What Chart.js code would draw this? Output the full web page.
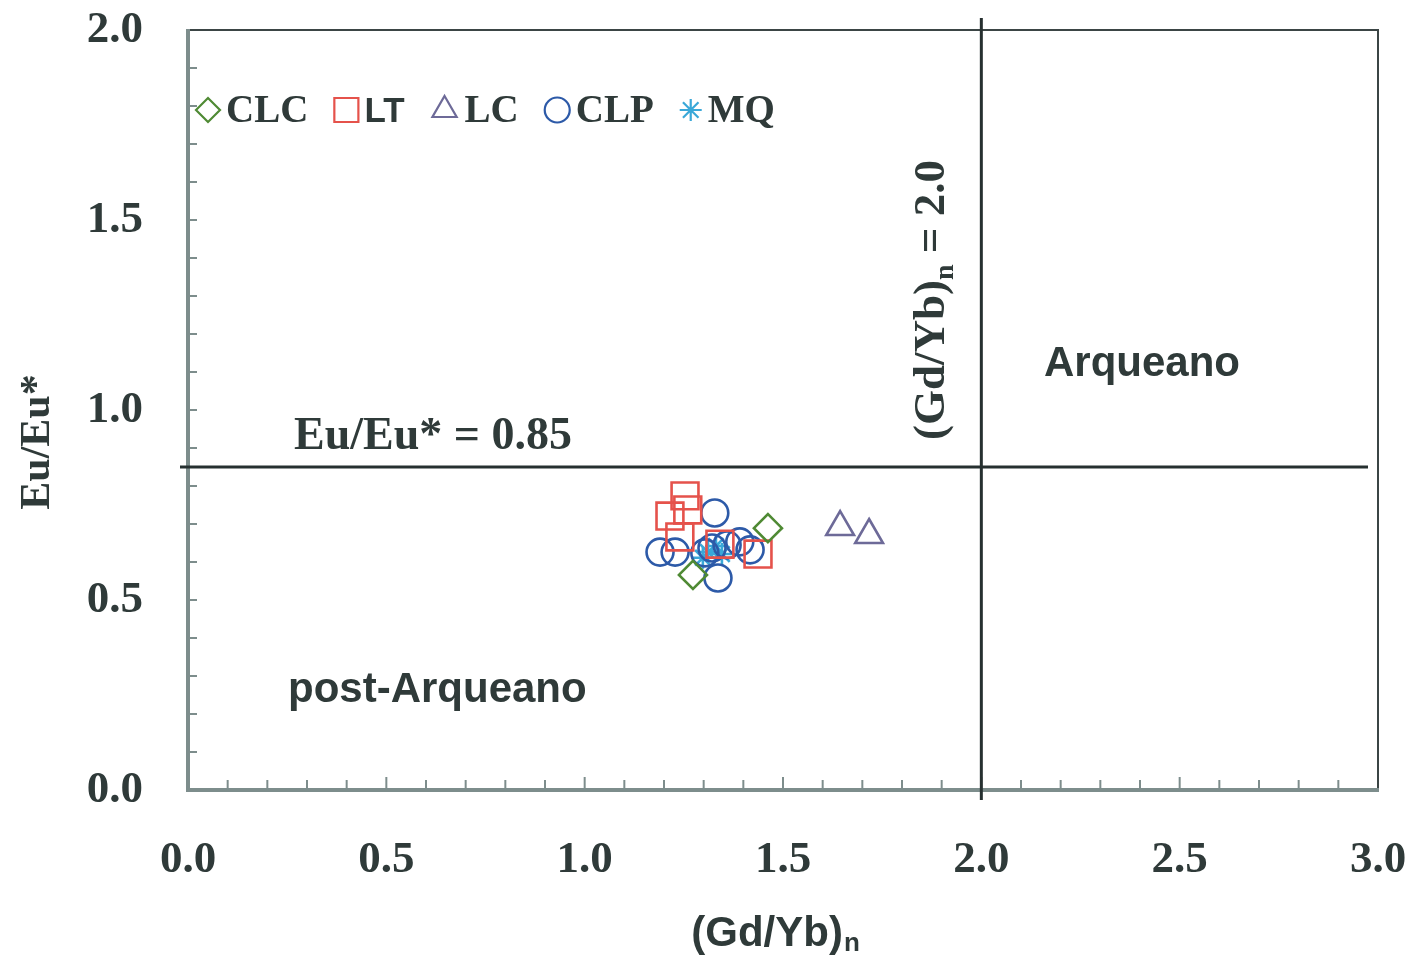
<!DOCTYPE html>
<html>
<head>
<meta charset="utf-8">
<title>Eu/Eu* vs (Gd/Yb)n</title>
<script src="https://cdn.jsdelivr.net/npm/chart.js@4/dist/chart.umd.min.js"></script>
<style>
  html, body { margin: 0; padding: 0; background: #ffffff; }
  #wrap { width: 1416px; height: 960px; }
</style>
</head>
<body>
<div id="wrap"><canvas id="c" width="1416" height="960"></canvas></div>
<script>
// Sample groups
const seriesNames = ['CLC', 'LT', 'LC', 'CLP', 'MQ'];

// (Gd/Yb)n values per group
const clcX = [1.462, 1.273];
const ltX  = [1.253, 1.215, 1.260, 1.240, 1.341, 1.437];
const lcX  = [1.644, 1.717];
const clpX = [1.328, 1.190, 1.228, 1.336, 1.391, 1.417, 1.321, 1.359, 1.303];
const mqX  = [1.311, 1.331, 1.298, 1.346];

// Eu/Eu* values per group
const clcY = [0.689, 0.566];
const ltY  = [0.774, 0.721, 0.737, 0.666, 0.647, 0.621];
const lcY  = [0.692, 0.671];
const clpY = [0.729, 0.626, 0.626, 0.558, 0.653, 0.632, 0.637, 0.645, 0.624];
const mqY  = [0.626, 0.642, 0.611, 0.621];

// Boundary values
const euLimit = 0.85;
const gdybLimit = 2.0;

// Axis tick labels
const xTickLabels = ['0.0', '0.5', '1.0', '1.5', '2.0', '2.5', '3.0'];
const yTickLabels = ['0.0', '0.5', '1.0', '1.5', '2.0'];

const INK = '#2f3a39';
const SERIF = '"Liberation Serif", "DejaVu Serif", serif';
const SANS = '"Liberation Sans", Arial, sans-serif';

function pts(xs, ys) { return xs.map((x, i) => ({ x: x, y: ys[i] })); }

const styles = {
  CLC: { color: '#4f8a34', pointStyle: 'rectRot', radius: 14, legendRadius: 12, font: SERIF, size: 39 },
  LT:  { color: '#e5524b', pointStyle: 'rect',    radius: 19, legendRadius: 17, font: SANS,  size: 35 },
  LC:  { color: '#6d6a98', pointStyle: 'triangle', radius: 16, legendRadius: 14, font: SERIF, size: 39 },
  CLP: { color: '#2d5aa8', pointStyle: 'circle',  radius: 13.5, legendRadius: 12.5, font: SERIF, size: 39 },
  MQ:  { color: '#3aa8d8', pointStyle: 'star',    radius: 11, legendRadius: 11, font: SERIF, size: 39 }
};

const dataByName = {
  CLC: pts(clcX, clcY),
  LT: pts(ltX, ltY),
  LC: pts(lcX, lcY),
  CLP: pts(clpX, clpY),
  MQ: pts(mqX, mqY)
};

const datasets = seriesNames.map(n => ({
  label: n,
  data: dataByName[n],
  pointStyle: styles[n].pointStyle,
  pointRadius: styles[n].radius,
  pointHoverRadius: styles[n].radius,
  pointBorderColor: styles[n].color,
  pointBackgroundColor: 'rgba(0,0,0,0)',
  pointBorderWidth: 2.6,
  showLine: false
}));

// Frame, inner ticks, reference lines and text annotations
const decorations = {
  id: 'decorations',
  beforeDatasetsDraw(chart) {
    const { ctx, chartArea: a, scales: { x, y } } = chart;
    ctx.save();
    // frame
    ctx.strokeStyle = '#3b4545';
    ctx.lineWidth = 2;
    ctx.beginPath();
    ctx.moveTo(a.left, a.top); ctx.lineTo(a.right, a.top); ctx.lineTo(a.right, a.bottom);
    ctx.stroke();
    ctx.strokeStyle = '#7d8d8c';
    ctx.lineWidth = 4;
    ctx.beginPath();
    ctx.moveTo(a.left, a.top - 1); ctx.lineTo(a.left, a.bottom); ctx.lineTo(a.right + 1, a.bottom);
    ctx.stroke();

    // minor ticks, pointing into the plot
    ctx.strokeStyle = '#7d8d8c';
    ctx.lineWidth = 2;
    for (let i = 1; i < 30; i++) {
      const px = x.getPixelForValue(i / 10);
      const len = (i % 5 === 0) ? 13 : 10;
      ctx.beginPath(); ctx.moveTo(px, a.bottom); ctx.lineTo(px, a.bottom - len); ctx.stroke();
    }
    for (let i = 1; i < 20; i++) {
      const py = y.getPixelForValue(i / 10);
      ctx.beginPath(); ctx.moveTo(a.left, py); ctx.lineTo(a.left + 9, py); ctx.stroke();
    }

    // boundary lines
    ctx.strokeStyle = '#263030';
    ctx.lineWidth = 3;
    const yl = y.getPixelForValue(euLimit);
    ctx.beginPath(); ctx.moveTo(a.left - 8, yl); ctx.lineTo(a.right - 10, yl); ctx.stroke();
    const xl = x.getPixelForValue(gdybLimit);
    ctx.beginPath(); ctx.moveTo(xl, a.top - 12); ctx.lineTo(xl, a.bottom + 10); ctx.stroke();

    // annotations
    ctx.fillStyle = INK;
    ctx.textBaseline = 'middle';
    ctx.textAlign = 'left';
    ctx.font = 'bold 46px ' + SERIF;
    ctx.fillText('Eu/Eu* = 0.85', 294, 437);
    ctx.font = 'bold 42px ' + SANS;
    ctx.fillText('Arqueano', 1044, 364);
    ctx.fillText('post-Arqueano', 288, 690);

    // rotated boundary label with subscript
    ctx.save();
    ctx.translate(932, 440);
    ctx.rotate(-Math.PI / 2);
    ctx.textAlign = 'left';
    ctx.font = 'bold 45px ' + SERIF;
    let t1 = '(Gd/Yb)';
    ctx.fillText(t1, 0, 0);
    let w = ctx.measureText(t1).width;
    ctx.font = 'bold 28px ' + SERIF;
    ctx.fillText('n', w, 14);
    w += ctx.measureText('n').width;
    ctx.font = 'bold 45px ' + SERIF;
    ctx.fillText(' = 2.0', w, 0);
    ctx.restore();

    // axis titles
    ctx.save();
    ctx.translate(38, 442);
    ctx.rotate(-Math.PI / 2);
    ctx.textAlign = 'center';
    ctx.font = 'bold 42px ' + SERIF;
    ctx.fillText('Eu/Eu*', 0, 0);
    ctx.restore();

    ctx.font = 'bold 42px ' + SANS;
    ctx.textAlign = 'left';
    const xt = '(Gd/Yb)';
    const xw = ctx.measureText(xt).width;
    ctx.font = 'bold 26px ' + SANS;
    const nw = ctx.measureText('n').width;
    const start = 775 - (xw + nw) / 2;
    ctx.font = 'bold 42px ' + SANS;
    ctx.fillText(xt, start, 934);
    ctx.font = 'bold 26px ' + SANS;
    ctx.fillText('n', start + xw + 1, 944);

    // legend row
    let lx = 196;
    const ly = 110;
    chart.data.datasets.forEach(ds => {
      const s = styles[ds.label];
      const r = s.legendRadius;
      const half = s.pointStyle === 'rect' ? r * Math.SQRT1_2 : r;
      ctx.strokeStyle = s.color;
      ctx.fillStyle = 'rgba(0,0,0,0)';
      ctx.lineWidth = 2.2;
      const cx = lx + half;
      if (Chart.helpers && Chart.helpers.drawPoint) {
        Chart.helpers.drawPoint(ctx, { pointStyle: s.pointStyle, radius: r, rotation: 0, borderWidth: 2.2 }, cx, ly);
      }
      ctx.fillStyle = INK;
      ctx.font = 'bold ' + s.size + 'px ' + s.font;
      ctx.textBaseline = 'middle';
      ctx.fillText(ds.label, lx + 2 * half + 6, ly + 2);
      lx += 2 * half + 6 + ctx.measureText(ds.label).width + 26;
    });
    ctx.restore();
  }
};

new Chart(document.getElementById('c'), {
  type: 'scatter',
  data: { datasets: datasets },
  options: {
    responsive: false,
    animation: false,
    devicePixelRatio: 1,
    layout: { padding: { left: 0, right: 38, top: 30, bottom: 0 } },
    plugins: {
      legend: { display: false },
      tooltip: { enabled: false }
    },
    scales: {
      x: {
        type: 'linear', min: 0, max: 3,
        afterFit(s) { s.height = 170; s.paddingLeft = 0; s.paddingRight = 0; },
        border: { display: false },
        grid: { display: false },
        ticks: {
          stepSize: 0.5,
          padding: 35,
          color: INK,
          font: { family: SERIF, size: 45, weight: 'bold' },
          callback: (v) => xTickLabels[Math.round(v * 2)] ?? ''
        }
      },
      y: {
        type: 'linear', min: 0, max: 2,
        afterFit(s) { s.width = 188; s.paddingTop = 0; s.paddingBottom = 0; },
        border: { display: false },
        grid: { display: false },
        ticks: {
          stepSize: 0.5,
          padding: 37,
          color: INK,
          font: { family: SERIF, size: 45, weight: 'bold' },
          callback: (v) => yTickLabels[Math.round(v * 2)] ?? ''
        }
      }
    }
  },
  plugins: [decorations]
});
</script>
</body>
</html>
